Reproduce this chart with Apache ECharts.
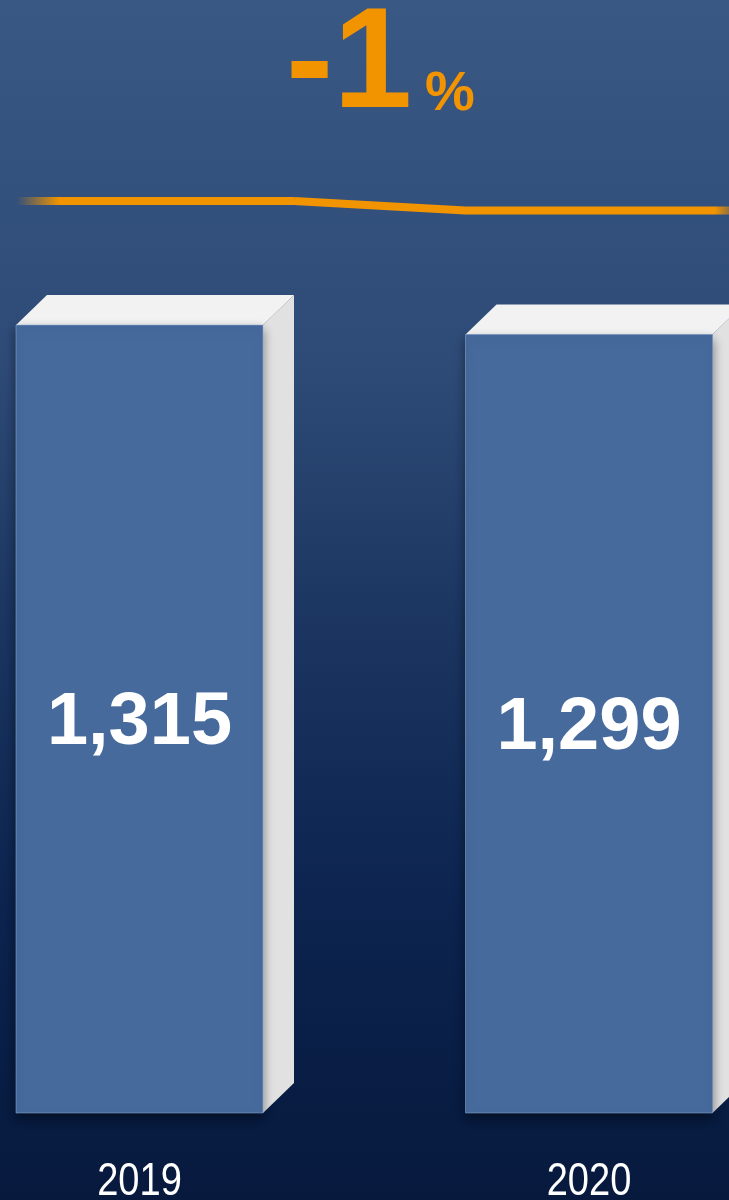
<!DOCTYPE html>
<html>
<head>
<meta charset="utf-8">
<script src="https://cdn.jsdelivr.net/npm/echarts@6/dist/echarts.min.js"></script>
<style>
  html, body { margin: 0; padding: 0; }
  #chart { width: 729px; height: 1200px; }
</style>
</head>
<body>
<div id="chart"></div>
<script>
const years = ['2019', '2020'];
const totals = [1315, 1299];

document.addEventListener('DOMContentLoaded', () => {
  const chart = echarts.init(document.getElementById('chart'));

  const orange = '#f29400';
  const barW = 247;
  const dx = 31;
  const dy = 30;
  const lineLift = 124;
  const change = Math.round((totals[1] - totals[0]) / totals[0] * 100);

  chart.setOption({
    backgroundColor: new echarts.graphic.LinearGradient(0, 0, 0, 1, [
      { offset: 0, color: '#395883' },
      { offset: 0.3, color: '#2e4b77' },
      { offset: 0.5, color: '#1c3762' },
      { offset: 0.75, color: '#0c244f' },
      { offset: 1, color: '#07193d' }
    ]),
    graphic: [
      {
        type: 'text',
        x: 286,
        y: 68,
        style: {
          text: String(change),
          fill: orange,
          font: 'bold 142px "Liberation Sans", Arial, sans-serif',
          verticalAlign: 'middle'
        }
      },
      {
        type: 'text',
        x: 425,
        y: 95,
        style: {
          text: '%',
          fill: orange,
          font: 'bold 56px "Liberation Sans", Arial, sans-serif',
          verticalAlign: 'middle'
        }
      }
    ],
    grid: {
      left: 139.5,
      right: 140,
      top: 274,
      bottom: 87
    },
    xAxis: {
      type: 'category',
      data: years,
      boundaryGap: false,
      axisLine: { show: false },
      axisTick: { show: false },
      axisLabel: { show: false }
    },
    yAxis: {
      type: 'value',
      min: 0,
      max: 1400,
      show: false,
      splitLine: { show: false }
    },
    series: [
      {
        type: 'custom',
        data: years.map((y, i) => [i, totals[i]]),
        renderItem: (params, api) => {
          const top = api.coord([api.value(0), api.value(1)]);
          const base = api.coord([api.value(0), 0]);
          const x0 = top[0] - barW / 2;
          const x1 = top[0] + barW / 2;
          const y0 = top[1];
          const y1 = base[1];
          return {
            type: 'group',
            children: [
              {
                type: 'polygon',
                shape: { points: [[x1, y0], [x1 + dx, y0 - dy], [x1 + dx, y1 - dy], [x1, y1]] },
                style: { fill: '#e1e1e1' }
              },
              {
                type: 'polygon',
                shape: { points: [[x0, y0], [x0 + dx, y0 - dy], [x1 + dx, y0 - dy], [x1, y0]] },
                style: { fill: '#f2f2f2' }
              },
              {
                type: 'rect',
                shape: { x: x0, y: y0, width: barW, height: y1 - y0 },
                style: {
                  fill: '#476a9d',
                  stroke: 'rgba(150,180,220,0.5)',
                  lineWidth: 1,
                  shadowColor: 'rgba(0,0,0,0.45)',
                  shadowBlur: 10,
                  shadowOffsetY: 5
                }
              },
              {
                type: 'text',
                x: top[0],
                y: (y0 + y1) / 2 + 5,
                style: {
                  text: echarts.format.addCommas(api.value(1)),
                  fill: '#ffffff',
                  font: 'bold 74px "Liberation Sans", Arial, sans-serif',
                  align: 'center',
                  verticalAlign: 'middle'
                }
              },
              {
                type: 'text',
                x: top[0],
                y: 1182,
                scaleX: 0.81,
                style: {
                  text: years[params.dataIndex],
                  fill: '#ffffff',
                  font: '47px "Liberation Sans", Arial, sans-serif',
                  align: 'center',
                  verticalAlign: 'middle'
                }
              }
            ]
          };
        }
      },
      {
        type: 'custom',
        data: years.map((y, i) => [i, totals[i]]),
        renderItem: (params, api) => {
          const i = params.dataIndexInside;
          const top = api.coord([api.value(0), api.value(1)]);
          const x0 = top[0] - barW / 2;
          const x1 = top[0] + barW / 2;
          const y = top[1] - lineLift;
          let points;
          if (i === 0) {
            points = [[x0 + 1, y], [x1 + dx, y]];
          } else {
            const prev = api.coord([api.value(0, i - 1), api.value(1, i - 1)]);
            points = [[prev[0] + barW / 2 + dx, prev[1] - lineLift], [x0, y], [api.getWidth(), y]];
          }
          return {
            type: 'polyline',
            shape: { points: points },
            style: {
              stroke: new echarts.graphic.LinearGradient(17, 0, 729, 0, [
                { offset: 0, color: 'rgba(242,148,0,0)' },
                { offset: 0.06, color: orange },
                { offset: 0.98, color: orange },
                { offset: 1, color: 'rgba(242,148,0,0.5)' }
              ], true),
              lineWidth: 8,
              fill: null
            }
          };
        }
      }
    ]
  });

  window.addEventListener('resize', () => chart.resize());
});
</script>
</body>
</html>
